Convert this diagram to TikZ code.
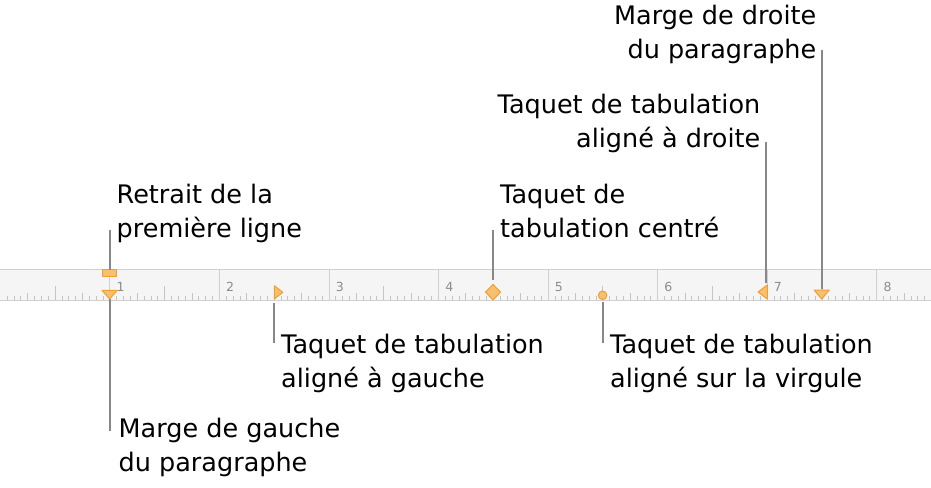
\documentclass[tikz,border=0pt]{standalone}
\usepackage{fontspec}
\setmainfont{DejaVu Sans}
\definecolor{rulerbg}{RGB}{245,245,245}
\definecolor{rulerline}{RGB}{208,208,208}
\definecolor{tickcol}{RGB}{196,196,196}
\definecolor{digitcol}{RGB}{140,140,140}
\definecolor{markfill}{RGB}{247,192,110}
\definecolor{markedge}{RGB}{240,160,50}
\definecolor{conncol}{RGB}{136,136,136}
\newcommand\twoL[2]{\vtop{\baselineskip=33.7pt\halign{##\hfil\cr#1\cr#2\cr}}}
\newcommand\twoR[2]{\vtop{\baselineskip=33.7pt\halign{\hfil##\cr#1\cr#2\cr}}}
\tikzset{
  label/.style={inner sep=0pt, font=\fontsize{25.5}{33.7}\selectfont, text=black},
  digit/.style={inner sep=0pt, anchor=base west, font=\fontsize{12.5}{13}\selectfont, text=digitcol},
  marker/.style={fill=markfill, draw=markedge, line width=1pt, line join=round},
  conn/.style={draw=conncol, line width=2pt},
}
\begin{document}
\begin{tikzpicture}[x=1pt,y=-1pt]
\useasboundingbox (0,0) rectangle (931,487);
% ruler
\fill[rulerbg] (0,269.5) rectangle (931,300);
\draw[rulerline, line width=1pt] (0,269.5) -- (931,269.5);
\draw[rulerline, line width=1pt] (0,300) -- (931,300);
\foreach \i in {1,...,135}{
  \pgfmathsetmacro{\xx}{0.4+\i*109.55/16}
  \pgfmathtruncatemacro{\mA}{mod(\i,16)}
  \pgfmathtruncatemacro{\mB}{mod(\i,8)}
  \pgfmathtruncatemacro{\mC}{mod(\i,4)}
  \ifnum\mA=0
    \draw[rulerline, line width=1pt] (\xx,269.5) -- (\xx,300);
  \else\ifnum\mB=0
    \draw[tickcol, line width=1pt] (\xx,285.5) -- (\xx,300);
  \else\ifnum\mC=0
    \draw[tickcol, line width=1pt] (\xx,293) -- (\xx,300);
  \else
    \draw[tickcol, line width=1pt] (\xx,296) -- (\xx,300);
  \fi\fi\fi
}
\foreach \k in {1,...,8}{
  \node[digit] (d\k) at ({0.4+\k*109.55+6.5},291) {\k};
}
% markers
\draw[marker] (102,269.5) rectangle (116.7,276.3);
\coordinate (fliTop) at (110,269.5);
\draw[marker] (102,290.3) -- (117.3,290.3) -- (109.6,299) -- cycle;
\coordinate (lmTip) at (110,299);
\draw[marker] (274.3,285.7) -- (282.8,292.3) -- (274.3,299) -- cycle;
\coordinate (ltBot) at (274.3,302.5);
\draw[marker] (485.5,292.2) -- (493,284.4) -- (500.5,292.2) -- (493,300) -- cycle;
\coordinate (ctTop) at (493,280);
\draw[marker] (602.6,295.3) circle[radius=4.3];
\coordinate (dtBot) at (603,301.5);
\draw[marker] (767.3,285) -- (758,292) -- (767.3,299) -- cycle;
\coordinate (rtTop) at (765.7,283.3);
\draw[marker] (814,290) -- (829.3,290) -- (821.7,299) -- cycle;
\coordinate (rmTop) at (822.3,288.5);
% connector ends
\coordinate (fliEnd) at (110,230);
\coordinate (lmEnd) at (110,430.5);
\coordinate (ltEnd) at (274.3,343.3);
\coordinate (ctEnd) at (493,229.5);
\coordinate (dtEnd) at (603,343.3);
\coordinate (rtEnd) at (765.7,141.7);
\coordinate (rmEnd) at (822.3,50);
\draw[conn] (fliTop) -- (fliEnd);
\draw[conn] (lmTip) -- (lmEnd);
\draw[conn] (ltBot) -- (ltEnd);
\draw[conn] (ctTop) -- (ctEnd);
\draw[conn] (dtBot) -- (dtEnd);
\draw[conn] (rtTop) -- (rtEnd);
\draw[conn] (rmTop) -- (rmEnd);
% labels
\node[label, anchor=base west] (tfli) at (116.5,203.3) {\twoL{Retrait de la}{première ligne}};
\node[label, anchor=base west] (tct) at (500,203.3) {\twoL{Taquet de}{tabulation centré}};
\node[label, anchor=base east] (trm) at (816.5,25) {\twoR{Marge de droite}{du paragraphe}};
\node[label, anchor=base east] (trt) at (760.5,113.5) {\twoR{Taquet de tabulation}{aligné à droite}};
\node[label, anchor=base west] (tlt) at (281,353.3) {\twoL{Taquet de tabulation}{aligné à gauche}};
\node[label, anchor=base west] (tdt) at (610,353.3) {\twoL{Taquet de tabulation}{aligné sur la virgule}};
\node[label, anchor=base west] (tlm) at (118.5,437.3) {\twoL{Marge de gauche}{du paragraphe}};
\end{tikzpicture}
\end{document}
